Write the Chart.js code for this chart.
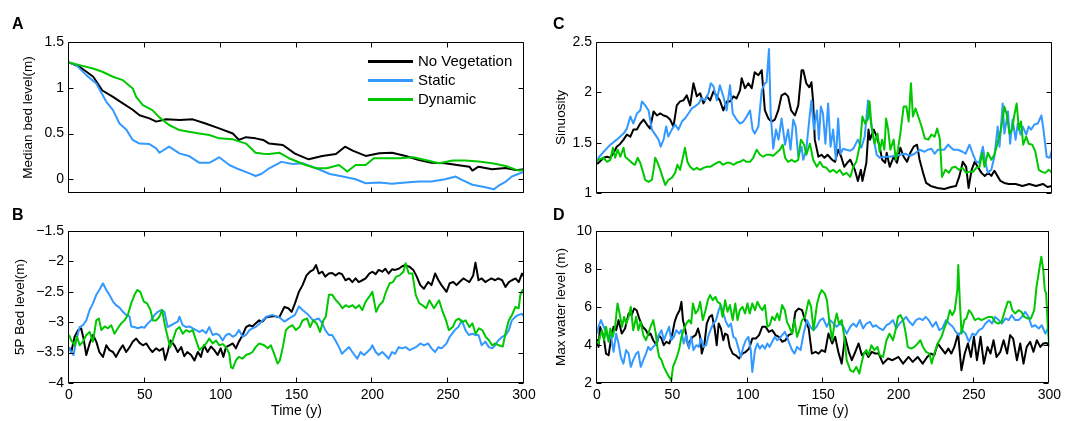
<!DOCTYPE html>
<html><head><meta charset="utf-8">
<script src="https://cdn.jsdelivr.net/npm/chart.js@4/dist/chart.umd.min.js"></script>
<style>
html,body{margin:0;padding:0;background:#fff;}
#wrap{position:relative;width:1065px;height:421px;overflow:hidden;font-family:"Liberation Sans",Arial,sans-serif;color:#000;}
canvas{position:absolute;left:0;top:0;}
.lbl{position:absolute;font-weight:bold;font-size:16px;line-height:16px;}
.legline{position:absolute;left:368px;width:45px;height:3px;}
.legtxt{position:absolute;left:418px;font-size:15px;line-height:18px;white-space:nowrap;}
</style></head>
<body>
<div id="wrap">
<canvas id="cA" width="1065" height="421"></canvas>
<canvas id="cB" width="1065" height="421"></canvas>
<canvas id="cC" width="1065" height="421"></canvas>
<canvas id="cD" width="1065" height="421"></canvas>
<div class="lbl" style="left:12px;top:16px">A</div>
<div class="lbl" style="left:12px;top:207px">B</div>
<div class="lbl" style="left:553px;top:16px">C</div>
<div class="lbl" style="left:553px;top:207px">D</div>
<div id="legend"></div>
</div>
<script>
// ---------- series names and colours ----------
const seriesNames = ["No Vegetation", "Static", "Dynamic"];
const seriesColors = ["#000000", "#3399ff", "#00c800"];

// ---------- tick labels ----------
const xTicks = [0, 50, 100, 150, 200, 250, 300];
const A_yTicks = [0, 0.5, 1, 1.5];
const B_yTicks = [-4, -3.5, -3, -2.5, -2, -1.5];
const C_yTicks = [1, 1.5, 2, 2.5];
const D_yTicks = [2, 4, 6, 8, 10];

// ---------- Panel A: Median bed level (m) ----------
const A_noVeg = [[0,1.276],[7,1.23],[16,1.12],[22,0.97],[29,0.90],[35.5,0.83],[42,0.76],[46.5,0.70],[53,0.665],[57.5,0.63],[64,0.655],[73,0.647],[81.6,0.655],[90,0.61],[99,0.556],[108,0.50],[112,0.43],[116.7,0.46],[123,0.447],[128,0.43],[132,0.39],[141,0.375],[149,0.28],[158,0.218],[167,0.255],[176,0.276],[182,0.356],[187,0.313],[195.6,0.255],[204.6,0.284],[213,0.29],[222,0.255],[230.7,0.21],[239,0.18],[248,0.175],[257,0.153],[264,0.138],[266,0.095],[270,0.138],[279,0.109],[288,0.124],[294.6,0.10],[300,0.109]];
const A_static = [[0,1.276],[4.8,1.247],[11.4,1.138],[18,1.047],[24.6,0.847],[29,0.756],[33.3,0.61],[37.7,0.545],[42,0.43],[46.5,0.39],[53,0.385],[57.5,0.338],[59.6,0.29],[66,0.356],[72.8,0.283],[79,0.255],[86,0.18],[92.5,0.18],[99,0.24],[105.7,0.156],[112,0.109],[119,0.065],[123,0.036],[127,0.06],[132,0.12],[140,0.19],[147.6,0.167],[154,0.175],[163,0.12],[172,0.058],[180.5,0.03],[189,0.0],[195.6,-0.044],[204.6,-0.036],[213,-0.05],[222,-0.036],[230.7,-0.025],[239,-0.025],[248,0.0],[255,0.03],[259,-0.007],[266,-0.06],[274.6,-0.087],[280,-0.11],[283,-0.073],[288,-0.025],[292,0.03],[300,0.084]];
const A_dynamic = [[0,1.276],[7,1.247],[15.8,1.21],[22,1.175],[29,1.12],[35.5,1.083],[42,0.993],[44.3,0.90],[48.7,0.81],[55,0.756],[59.6,0.676],[66,0.593],[72.8,0.538],[79,0.52],[86,0.50],[92.5,0.484],[99,0.447],[108,0.436],[116.7,0.39],[123,0.29],[128,0.28],[132,0.276],[138.6,0.29],[145,0.23],[156,0.156],[163,0.12],[170,0.12],[178,0.156],[183.5,0.084],[189,0.156],[195.6,0.156],[201,0.23],[209,0.23],[218,0.23],[227,0.24],[235,0.21],[244,0.175],[253,0.204],[261.4,0.204],[270,0.193],[279,0.175],[288,0.145],[296.5,0.095],[300,0.1]];

// ---------- Panel B: 5P Bed level (m) ----------
const B_noVeg = [[0,-3.41],[1.5,-3.49],[3.7,-3.24],[6,-3.13],[8,-3.10],[9.6,-3.27],[11.4,-3.54],[13.6,-3.35],[15.8,-3.21],[18,-3.32],[20,-3.49],[22.4,-3.57],[24.6,-3.38],[26.7,-3.46],[29,-3.49],[31,-3.57],[33.3,-3.46],[35.5,-3.38],[37.7,-3.49],[40,-3.41],[42,-3.32],[44.3,-3.27],[46.5,-3.34],[48.7,-3.38],[51,-3.35],[53,-3.43],[55,-3.49],[57.5,-3.43],[59.6,-3.47],[62,-3.43],[63.4,-3.62],[65,-3.49],[67,-3.30],[69.5,-3.38],[71.7,-3.49],[74,-3.41],[76,-3.56],[78,-3.49],[80.5,-3.54],[82.7,-3.63],[85,-3.49],[87,-3.57],[89,-3.38],[91.4,-3.49],[93.6,-3.40],[95.8,-3.46],[98,-3.54],[100,-3.43],[101.8,-3.57],[103.5,-3.41],[105.7,-3.38],[108,-3.35],[110,-3.43],[112,-3.32],[114.5,-3.21],[116.7,-3.08],[119,-3.05],[121,-3.07],[123,-3.02],[125.4,-2.97],[127.6,-2.99],[130,-2.92],[135.4,-2.90],[138.6,-2.92],[142,-2.75],[144.6,-2.77],[146.8,-2.83],[149,-2.69],[151.6,-2.50],[154,-2.39],[156.6,-2.23],[158.9,-2.17],[161,-2.14],[162.9,-2.06],[164.7,-2.20],[167,-2.17],[169,-2.25],[171.3,-2.20],[173.5,-2.19],[175.7,-2.23],[178,-2.19],[180,-2.21],[182.3,-2.31],[184.6,-2.28],[186.8,-2.34],[189,-2.28],[191,-2.34],[193.4,-2.31],[195.6,-2.28],[198,-2.20],[200,-2.17],[202.2,-2.21],[204.2,-2.14],[206.5,-2.17],[208.6,-2.12],[210.7,-2.20],[213,-2.13],[215,-2.14],[217.4,-2.12],[219.7,-2.08],[222,-2.06],[224.6,-2.09],[227,-2.14],[229.3,-2.25],[231.6,-2.39],[234,-2.45],[236.8,-2.34],[239,-2.39],[241.4,-2.20],[243.6,-2.31],[245.6,-2.39],[248.9,-2.50],[251,-2.36],[253.4,-2.34],[255.5,-2.39],[257.5,-2.34],[260,-2.28],[262,-2.31],[264,-2.34],[266.5,-2.23],[268,-2.02],[270,-2.31],[272.1,-2.28],[274.5,-2.34],[276.4,-2.31],[278.5,-2.28],[281,-2.31],[283,-2.28],[285.6,-2.31],[287.8,-2.42],[290,-2.34],[292,-2.31],[294.4,-2.28],[296.5,-2.34],[298.7,-2.20],[300,-2.25]];
const B_static = [[0,-3.41],[1.5,-3.49],[3,-3.54],[4.8,-3.30],[7,-3.08],[9.2,-3.05],[11.4,-2.97],[13.6,-2.80],[15.8,-2.69],[18,-2.55],[20,-2.47],[22.4,-2.36],[24.6,-2.47],[26.7,-2.55],[29,-2.66],[31,-2.72],[33.3,-2.76],[35.5,-2.83],[37.7,-2.88],[40,-2.91],[41,-3.07],[43,-3.08],[45.4,-3.10],[47.6,-3.08],[49.8,-3.09],[52,-3.02],[54,-2.97],[56.4,-2.88],[58.6,-2.83],[60.7,-2.80],[63,-2.83],[65,-3.08],[67.3,-3.05],[69.5,-3.02],[71.7,-2.99],[72.8,-2.91],[75,-3.05],[77.2,-3.08],[79.4,-3.07],[81.6,-3.10],[83.8,-3.13],[86,-3.16],[88,-3.13],[90.4,-3.18],[92.5,-3.08],[94.7,-3.21],[97,-3.19],[99,-3.21],[101.3,-3.30],[103.5,-3.21],[105.7,-3.19],[108,-3.24],[110,-3.21],[112,-3.13],[114.5,-3.24],[116.7,-3.21],[119,-3.13],[121,-3.10],[123,-3.08],[125.4,-3.03],[130,-2.91],[134,-2.88],[138.6,-2.92],[142,-2.99],[145,-2.94],[149,-2.88],[151.6,-2.74],[154,-2.80],[157,-2.86],[161,-2.97],[164.7,-2.94],[167,-3.02],[169,-3.13],[171.3,-3.21],[173.5,-3.21],[175.7,-3.30],[178,-3.41],[180,-3.52],[182.3,-3.46],[184.6,-3.41],[186.8,-3.49],[190,-3.60],[192.3,-3.49],[194.5,-3.54],[196.7,-3.49],[199,-3.43],[200,-3.38],[202.2,-3.49],[204.2,-3.54],[206.5,-3.49],[208.6,-3.54],[210.7,-3.60],[213,-3.49],[215,-3.52],[217.4,-3.41],[219.7,-3.43],[222,-3.41],[224.6,-3.46],[227,-3.43],[229.3,-3.40],[231.6,-3.35],[234,-3.38],[236.8,-3.35],[239,-3.43],[241.4,-3.49],[243.6,-3.41],[245.6,-3.43],[248.9,-3.35],[251,-3.24],[254.4,-3.13],[256.7,-3.08],[259,-2.97],[261.4,-3.13],[263.6,-3.21],[266,-3.19],[268,-3.21],[270,-3.21],[272.1,-3.38],[274.5,-3.32],[276.8,-3.41],[279,-3.43],[281,-3.38],[283,-3.30],[285.6,-3.24],[288,-3.21],[290,-3.13],[292,-2.97],[294.4,-2.91],[296.5,-2.88],[298.7,-2.86],[300,-2.91]];
const B_dynamic = [[0,-3.21],[1.5,-3.30],[3.7,-3.38],[5.3,-3.24],[7,-3.38],[9.2,-3.32],[11.4,-3.21],[13.6,-3.16],[15.8,-3.32],[18,-2.97],[19.7,-2.94],[21.3,-3.13],[23.5,-3.07],[25.7,-3.10],[27.9,-3.05],[30,-3.19],[32.2,-3.10],[34.4,-3.02],[36.6,-2.97],[38.8,-2.88],[41,-2.69],[43.2,-2.55],[45,-2.47],[47,-2.50],[49.3,-2.66],[51.5,-2.69],[53.7,-2.80],[55.3,-2.97],[57.5,-2.97],[59.6,-2.91],[61.4,-2.80],[63,-3.02],[65,-3.24],[66.7,-3.41],[68.4,-3.30],[70.6,-3.13],[72.8,-3.08],[75,-3.19],[77.2,-3.13],[79.4,-3.16],[81.6,-3.13],[83.8,-3.30],[86,-3.46],[88,-3.41],[90.4,-3.35],[92.5,-3.27],[94.7,-3.35],[97,-3.30],[99,-3.38],[101.3,-3.36],[103.5,-3.41],[105.7,-3.52],[106.8,-3.74],[108,-3.76],[110,-3.63],[112,-3.57],[114.5,-3.60],[116.7,-3.54],[119,-3.52],[121,-3.49],[123,-3.41],[125.4,-3.35],[128.7,-3.38],[131,-3.43],[133.1,-3.38],[135.3,-3.52],[137.5,-3.68],[139,-3.63],[141,-3.41],[143,-3.13],[145,-3.08],[147.4,-3.05],[149.6,-3.13],[152,-3.08],[154,-2.97],[157,-2.94],[159,-3.08],[161,-2.97],[163.3,-3.02],[165.5,-3.16],[167.7,-2.97],[169.3,-2.91],[171.4,-2.55],[173.6,-2.55],[176,-2.64],[178,-2.69],[180.3,-2.77],[182.5,-2.72],[184.5,-2.75],[187,-2.72],[189,-2.77],[191.3,-2.72],[193.4,-2.80],[195.6,-2.66],[198,-2.58],[200,-2.50],[202.5,-2.83],[204.6,-2.72],[207,-2.66],[209,-2.50],[211.4,-2.36],[213.6,-2.34],[215.8,-2.25],[218,-2.23],[220.5,-2.17],[222,-2.03],[224,-2.20],[226.4,-2.20],[228.6,-2.55],[231,-2.69],[233,-2.72],[235.5,-2.77],[237.6,-2.64],[240.6,-2.77],[244,-2.64],[246,-2.80],[248.6,-2.97],[250.4,-3.13],[253,-3.08],[255,-2.97],[257,-2.94],[259.3,-3.00],[261.5,-2.97],[264,-3.08],[266,-3.02],[268.1,-3.19],[270.3,-3.10],[272.5,-3.13],[274.7,-3.24],[277,-3.30],[279,-3.38],[281.1,-3.35],[283.3,-3.38],[286,-3.40],[287.7,-3.19],[290,-2.97],[292.1,-2.88],[294.3,-2.75],[296.5,-2.77],[297.6,-2.55],[299,-2.47],[300,-2.50]];

// ---------- Panel C: Sinuosity ----------
const C_noVeg = [[0,1.29],[1,1.30],[4.4,1.35],[6.6,1.36],[8.8,1.35],[11,1.40],[13,1.46],[15.4,1.49],[17.5,1.53],[19.7,1.58],[22,1.56],[24,1.63],[26.3,1.63],[28.5,1.69],[30.7,1.73],[32.9,1.68],[35,1.64],[37.3,1.81],[39.5,1.77],[41.7,1.79],[43.9,1.77],[46,1.76],[48.2,1.73],[50.4,1.66],[52.6,1.87],[54.8,1.91],[57,1.92],[59.2,1.97],[61.4,1.87],[63.6,2.09],[65.8,1.96],[68,1.99],[70.2,1.89],[72.4,1.96],[74.6,1.92],[76.8,2.01],[79,1.96],[81,1.92],[83.3,1.82],[85.5,1.91],[87.7,1.91],[90,1.96],[92,1.94],[94.3,2.02],[95.4,2.14],[97.6,2.04],[99.8,2.09],[102,2.04],[104,2.20],[106.4,2.17],[108.6,2.22],[110.7,1.82],[113,1.74],[115,1.71],[117.3,1.73],[119.5,1.82],[121.7,1.97],[124,1.99],[126,1.96],[128,1.82],[130.5,1.77],[132.7,1.87],[134.9,2.22],[136,2.22],[138,2.09],[140,2.05],[141.4,2.10],[142.5,1.91],[143.6,1.53],[146,1.36],[148,1.38],[150,1.35],[152,1.38],[155,1.33],[157,1.31],[159,1.43],[161,1.36],[163,1.26],[165,1.30],[167,1.33],[170,1.23],[172,1.12],[174,1.23],[175,1.12],[177.6,1.30],[179,1.63],[180,1.53],[182.5,1.63],[184.4,1.56],[186.4,1.46],[188,1.33],[190,1.30],[191,1.40],[193,1.26],[195.6,1.36],[197.8,1.30],[200,1.45],[202.2,1.36],[204.4,1.31],[206.6,1.40],[208.8,1.46],[211,1.48],[212.7,1.33],[215,1.20],[217,1.10],[220,1.07],[224.5,1.05],[229,1.04],[233.3,1.06],[236.7,1.07],[239,1.17],[241.2,1.31],[243.4,1.26],[245,1.05],[247,1.23],[249,1.31],[251,1.26],[253.5,1.20],[255.7,1.17],[258,1.20],[260,1.17],[262,1.22],[264,1.17],[266,1.12],[268.5,1.10],[271.5,1.09],[276,1.09],[280.5,1.07],[285,1.09],[289.5,1.07],[294,1.09],[297,1.06],[300,1.07]];
const C_static = [[0,1.31],[1,1.35],[4.4,1.41],[8.8,1.48],[13,1.53],[17.5,1.59],[19.7,1.64],[22,1.76],[24,1.69],[26.3,1.79],[28.5,1.82],[29.6,1.91],[31.8,1.87],[34,1.82],[36.2,1.63],[38.4,1.58],[40.6,1.53],[42,1.46],[43.9,1.53],[45.6,1.66],[47,1.56],[49.3,1.63],[51.5,1.68],[53.7,1.63],[56,1.71],[58,1.74],[60.3,1.79],[62.5,1.84],[64.7,1.86],[67,1.89],[69,1.94],[71.3,1.92],[73.5,1.99],[75,2.09],[76.8,2.06],[79,1.92],[81,2.07],[83.3,1.96],[85.5,1.82],[87.7,2.07],[89.5,1.79],[92,1.73],[94.3,1.69],[96.5,1.71],[98.7,1.76],[100.9,1.82],[102.6,1.63],[104,1.59],[106.4,1.66],[108.6,2.02],[110.7,2.09],[111.8,2.10],[113.4,2.43],[114.5,1.79],[116.2,1.44],[118,1.63],[119.7,1.53],[121.7,1.74],[124,1.48],[126,1.63],[127.6,1.43],[129.4,1.73],[131,1.66],[132.7,1.36],[134.9,1.46],[136,1.33],[138,1.43],[140.4,1.79],[141.4,1.92],[143,1.63],[145,1.82],[146.3,1.53],[147.6,1.86],[149,1.79],[150.6,1.49],[152.4,1.89],[154,1.46],[155.7,1.63],[157.5,1.33],[159,1.74],[160.5,1.39],[162.3,1.44],[164.5,1.43],[167,1.42],[169,1.44],[172,1.53],[174.3,1.45],[176.5,1.56],[178.7,1.92],[180,1.76],[182.5,1.53],[184.4,1.38],[186.4,1.35],[190,1.36],[193,1.36],[196,1.37],[200,1.38],[203,1.39],[206.6,1.37],[209.4,1.39],[212.7,1.43],[216,1.41],[218,1.43],[220.5,1.44],[222.6,1.39],[224.8,1.43],[229,1.43],[231.5,1.48],[235,1.43],[238,1.43],[241,1.41],[243,1.39],[245.6,1.48],[248,1.38],[250,1.31],[252,1.30],[254.4,1.46],[256,1.31],[257.7,1.20],[260,1.23],[262,1.36],[264.2,1.66],[265.4,1.46],[267.5,1.89],[268.6,1.59],[271,1.81],[272.4,1.49],[274,1.73],[276,1.53],[277.4,1.69],[279.2,1.58],[280.7,1.66],[283,1.58],[284.6,1.66],[286.2,1.63],[288.4,1.68],[290.6,1.69],[293,1.77],[294.3,1.64],[296.5,1.36],[298.6,1.35],[300,1.43]];
const C_dynamic = [[0,1.32],[1,1.33],[4.4,1.35],[6.6,1.31],[8.8,1.33],[10.5,1.45],[12,1.35],[13.6,1.43],[15.4,1.36],[17.5,1.45],[18.6,1.36],[20.8,1.33],[23,1.30],[25,1.28],[26.8,1.35],[28.5,1.30],[30.3,1.21],[31.8,1.13],[34,1.11],[36.2,1.13],[37.3,1.23],[38.4,1.35],[40,1.30],[41.7,1.23],[43.4,1.15],[45,1.08],[47,1.13],[49.3,1.15],[51.5,1.20],[53,1.28],[54.8,1.23],[56.6,1.35],[58,1.45],[59.6,1.31],[61.4,1.26],[63.6,1.23],[65.8,1.25],[68,1.23],[70.2,1.25],[72.4,1.26],[74.6,1.26],[76.8,1.28],[79,1.30],[81,1.31],[83,1.28],[85.5,1.30],[87.7,1.30],[90,1.28],[92,1.30],[94.3,1.31],[96.5,1.33],[98.7,1.31],[100.9,1.31],[103,1.35],[105.3,1.43],[107.5,1.38],[109.6,1.36],[111.8,1.38],[114,1.38],[116.2,1.37],[118.4,1.40],[120.6,1.43],[122.4,1.48],[124,1.35],[126,1.31],[128.3,1.33],[130.5,1.31],[132.7,1.33],[134.4,1.53],[136.6,1.48],[138,1.38],[140.4,1.49],[142.5,1.33],[145,1.26],[147,1.31],[149,1.26],[151.3,1.25],[153.5,1.21],[155.7,1.23],[158,1.20],[160,1.23],[162.3,1.18],[164.5,1.20],[167,1.16],[169,1.26],[171,1.31],[173.5,1.49],[175,1.76],[176.8,1.69],[178.5,1.73],[179.7,1.91],[181,1.66],[183,1.49],[185,1.59],[186.3,1.41],[188,1.53],[189.5,1.43],[190.6,1.74],[192,1.63],[193.4,1.43],[195.6,1.53],[197,1.33],[198.5,1.44],[200,1.59],[202.2,1.86],[204,1.86],[205.5,1.71],[207,2.09],[208.3,1.76],[210,1.84],[211.8,1.76],[214,1.66],[216.2,1.54],[218.4,1.53],[220.5,1.58],[222.6,1.56],[224.3,1.64],[226,1.54],[227.5,1.16],[229.7,1.23],[232,1.20],[234,1.25],[236.3,1.26],[238.5,1.23],[241,1.25],[243.4,1.20],[245.6,1.21],[248,1.21],[250,1.25],[252.2,1.26],[254,1.40],[255.5,1.26],[257.7,1.40],[260,1.33],[262,1.38],[264,1.49],[266.4,1.63],[268.6,1.86],[270,1.79],[272,1.59],[273.7,1.63],[275,1.76],[276.7,1.89],[278.2,1.63],[279.6,1.71],[281,1.48],[283,1.56],[284.6,1.49],[287,1.48],[289,1.41],[291.3,1.23],[293.4,1.21],[295.6,1.20],[297.8,1.23],[300,1.20]];

// ---------- Panel D: Max water level (m) ----------
const D_noVeg = [[0,4.3],[1,3.9],[2,4.96],[4.4,4.43],[6,3.55],[7.7,3.46],[9.2,4.25],[11,4.96],[12.7,4.78],[14.3,5.31],[16.4,4.6],[18.6,4.87],[21,5.66],[23,5.57],[24.6,5.92],[26.3,5.83],[28,5.40],[30.3,4.96],[32.5,4.78],[34,4.52],[35.5,4.6],[37.3,4.25],[39.5,3.99],[41,4.52],[42.8,4.34],[44.3,3.99],[46,4.17],[48,4.08],[50,4.6],[51.5,5.22],[53,5.57],[54.8,5.83],[56,6.27],[57,5.31],[58.6,4.78],[60.3,3.99],[62,4.25],[63.6,4.43],[65.4,4.52],[67,4.87],[68.4,4.43],[69.5,3.55],[71.3,4.08],[72.8,5.13],[74.6,5.48],[76.3,5.57],[78,4.87],[79.4,3.99],[80.7,5.13],[82.2,4.87],[83.8,4.25],[85,4.6],[86.6,4.52],[88,3.9],[90,3.55],[92,3.46],[94.3,3.29],[96.5,3.55],[98.7,3.64],[100.9,3.81],[103,4.34],[105.3,4.34],[107.5,4.52],[109.6,4.96],[111.8,4.96],[114,4.69],[116.2,4.78],[118.4,4.52],[120.6,4.43],[122.8,4.17],[125,4.25],[127,4.52],[129.4,4.6],[131.6,5.75],[133.8,5.92],[136,5.83],[138,5.31],[140.4,4.87],[142.5,3.55],[145,3.64],[147,3.55],[149,3.73],[151.3,3.64],[153.5,4.6],[156,4.08],[158,4.43],[160,3.64],[162.3,3.02],[164.5,4.43],[167,3.64],[169,3.2],[171.3,3.64],[173.5,4.08],[175.7,3.46],[178,3.64],[180,3.37],[182.3,3.64],[184.6,3.55],[186.8,3.55],[189.7,3.02],[193,3.29],[196,3.20],[200,3.37],[203,3.02],[206.6,3.37],[209.4,3.11],[212.7,3.37],[216,3.02],[219,3.37],[221.5,3.55],[223.7,3.46],[226,4.08],[228.5,3.81],[231,3.55],[233,3.81],[235,3.55],[237,3.90],[239.5,4.60],[241.7,2.67],[243.9,3.55],[246,4.08],[248,3.37],[250,4.43],[252,3.20],[254.4,4.43],[256.6,3.02],[259,3.9],[261,3.55],[263,4.25],[265,3.37],[267.5,3.64],[269.7,4.25],[272,3.55],[274,4.52],[276,4.34],[278.5,3.2],[280.7,4.08],[282.9,3.02],[285,3.9],[287.3,4.17],[289.5,3.64],[291.7,4.25],[294,3.9],[296,4.08],[298.2,4.11],[300,3.94]];
const D_static = [[0,4.6],[1,4.96],[2.6,5.31],[4.4,4.96],[6,4.69],[7.7,4.25],[9.2,4.52],[11,3.64],[12.7,4.6],[14.3,4.08],[15.8,3.37],[17.5,3.02],[19.3,3.73],[21,3.55],[22.4,2.85],[24,3.20],[26,3.55],[27.4,3.64],[29,2.85],[30.7,3.20],[32.5,3.55],[34,3.9],[35.5,3.73],[37.3,3.9],[39.5,4.08],[41,4.52],[42.8,4.78],[44.3,4.25],[46,4.6],[47.8,4.96],[49.3,4.25],[51,4.43],[52.6,4.78],[54.4,4.6],[56,4.78],[57.5,4.08],[59.2,4.52],[61,3.81],[62.5,4.43],[64,3.73],[65.8,3.99],[67.5,3.9],[69,4.34],[70.6,3.9],[72.4,3.99],[74,4.52],[75.7,4.87],[77.2,5.13],[79,5.31],[80.7,5.83],[82.2,6.10],[83.8,5.66],[85.5,5.22],[87.3,4.96],[88.8,5.13],[90.4,4.43],[92,4.34],[93.9,3.81],[95.4,3.37],[97,3.9],[98.7,4.25],[100.4,4.43],[102,3.73],[103,2.58],[104.8,3.73],[106.4,4.08],[108,3.81],[109.6,3.99],[111.4,3.81],[113,4.08],[114.5,3.9],[116.2,4.17],[118,4.43],[119.5,4.25],[121,4.34],[122.8,4.52],[124.6,4.69],[126,4.43],[127.6,4.08],[129.4,3.73],[131,3.55],[132.7,3.9],[135,3.73],[137,4.6],[139.3,5.31],[141.4,4.96],[143.6,4.78],[145.6,4.96],[148,5.31],[150,5.40],[152.4,4.96],[154.6,5.31],[157,5.13],[159,4.96],[161.2,5.13],[163.4,4.96],[165.6,4.6],[168,4.96],[170,5.13],[172.1,4.96],[174.3,5.31],[176.5,4.87],[178.7,5.13],[181,5.22],[183,4.96],[185,5.04],[187.5,4.87],[189.7,4.78],[192,5.04],[194,5.13],[196.3,5.31],[198.5,4.87],[200.7,5.13],[203,5.31],[205,5.48],[207.2,5.22],[209.4,5.04],[211.6,5.31],[213.8,5.40],[216,5.31],[218,5.48],[220,5.31],[222.6,4.96],[224.8,5.22],[227,4.78],[229,4.87],[231.5,5.31],[233.5,5.13],[236,4.96],[238,4.69],[240,4.52],[242.3,4.78],[244.5,4.6],[246.7,4.17],[249,4.6],[251,4.52],[253.3,4.78],[255.5,4.87],[257.7,5.13],[260,5.31],[262,5.13],[264,5.48],[266.4,5.31],[268.6,5.13],[271,5.40],[273,5.31],[275,5.57],[277.4,5.31],[279.6,5.31],[281.8,5.48],[284,5.75],[286.2,5.48],[288.4,4.96],[290.6,5.04],[293,4.87],[295,5.04],[297.4,4.6],[300,5.04]];
const D_dynamic = [[0,4.2],[1,4.08],[2,4.43],[3.3,4.78],[4.8,4.25],[6,4.96],[7.7,4.17],[8.8,4.87],[10.5,4.43],[12,4.96],[13.6,6.19],[15,5.66],[16.6,4.96],[18,5.48],[19.3,5.13],[21,5.48],[22.4,6.01],[24,4.78],[26,5.48],[27.4,4.78],[29,5.22],[30.7,4.52],[32.5,4.25],[34,4.6],[35.5,4.96],[37.3,5.31],[39,4.6],[40,3.9],[41.2,3.37],[42.8,3.2],[44.3,2.85],[46,2.58],[47.8,2.32],[49.3,2.14],[50.4,2.85],[52.2,3.2],[53.7,3.55],[54.8,3.9],[56,4.43],[57.5,4.78],[59.2,5.13],[61,5.31],[62.5,5.13],[63.6,6.19],[65.4,5.66],[67,5.83],[68.4,6.27],[70.2,5.31],[72,5.83],[73.5,6.36],[75,6.63],[76.8,6.36],[78.5,6.54],[80,6.27],[81.6,6.19],[83.3,5.48],[85,6.36],[86.6,5.75],[88.2,6.10],[90,5.31],[91.7,6.19],[93.2,5.31],[94.7,5.83],[96.5,6.01],[98.2,5.66],[99.8,6.19],[101.3,5.66],[103,6.19],[104.8,5.83],[106.4,6.27],[108,6.01],[109.6,5.83],[111.4,6.10],[113,4.96],[114.5,5.04],[116.2,5.48],[118,5.31],[119.5,5.66],[121,5.31],[122.8,6.10],[124.6,5.83],[126,5.22],[127.6,4.96],[129.4,4.6],[131,5.31],[132.7,4.43],[134.2,4.78],[136,5.31],[138,5.48],[140.4,6.36],[142,6.01],[143.6,4.78],[146,6.19],[147.5,6.63],[149,6.89],[151,6.72],[152.5,6.36],[154,5.31],[156,4.25],[157.5,5.13],[159,5.66],[160.5,5.13],[162.3,5.31],[164,4.43],[165.6,3.2],[168,2.67],[170,2.58],[172,2.85],[174,2.50],[175.4,3.02],[177,3.55],[178.7,3.73],[180,3.46],[182,3.99],[184,3.73],[186,3.90],[187.5,3.46],[189.7,3.37],[192,4.25],[194,4.6],[196.3,4.25],[198,4.78],[199.6,5.48],[201.3,5.57],[203,5.31],[204.4,4.78],[206.1,3.90],[208.3,3.81],[210.5,3.90],[212.7,4.08],[214.5,4.25],[216.2,3.90],[218.2,3.64],[220.5,3.55],[222,3.02],[223.7,3.55],[226,4.08],[228.5,4.43],[230.7,4.96],[232.5,5.31],[234,5.83],[235.6,5.57],[237.3,5.83],[239,6.89],[239.6,8.21],[240.7,6.19],[241.8,4.6],[243.6,5.31],[245,5.40],[246.7,5.83],[248.4,5.66],[250.6,5.31],[253,5.40],[255,5.31],[257.5,5.40],[259.6,5.48],[262,5.48],[264,5.22],[266.2,5.13],[268.4,5.22],[270.6,5.83],[272.4,6.27],[274,6.27],[275.5,5.83],[277.3,5.66],[279.6,5.83],[281.4,5.75],[283.4,5.48],[285.5,5.40],[287.8,5.40],[290,5.83],[291.5,7.06],[293.6,8.12],[294.7,8.65],[296,7.94],[297,6.89],[297.9,6.72],[299,4.96],[300,3.9]];

// ---------- helpers ----------
const FONT = '"Liberation Sans", Arial, sans-serif';
const fmt = v => String(v).replace('-', '\u2212');

const framePlugin = {
  id: 'frame',
  afterDraw(chart) {
    const {ctx, chartArea: a, scales} = chart;
    const L = Math.round(a.left) - 0.5, R = Math.round(a.right) - 0.5;
    const T = Math.round(a.top) + 0.5, B = Math.round(a.bottom) - 0.5;
    const tl = 5;
    ctx.save();
    ctx.strokeStyle = '#000';
    ctx.lineWidth = 1;
    ctx.beginPath();
    ctx.rect(L, T, R - L, B - T);
    scales.x.ticks.forEach(t => {
      const px = Math.round(scales.x.getPixelForValue(t.value)) - 0.5;
      ctx.moveTo(px, B); ctx.lineTo(px, B - tl);
      ctx.moveTo(px, T); ctx.lineTo(px, T + tl);
    });
    scales.y.ticks.forEach(t => {
      const py = Math.round(scales.y.getPixelForValue(t.value)) + 0.5;
      ctx.moveTo(L, py); ctx.lineTo(L + tl, py);
      ctx.moveTo(R, py); ctx.lineTo(R - tl, py);
    });
    ctx.stroke();
    ctx.restore();
  }
};

function makePanel(id, p) {
  const toXY = arr => arr.map(([x, y]) => ({x, y}));
  // green drawn on top, then blue, then black
  const order = [2, 1, 0];
  const datasets = order.map(i => ({
    label: seriesNames[i],
    data: toXY(p.series[i]),
    borderColor: seriesColors[i],
    backgroundColor: seriesColors[i],
    borderWidth: 2,
    pointRadius: 0,
    tension: 0,
    fill: false,
    borderJoinStyle: 'round'
  }));
  new Chart(document.getElementById(id), {
    type: 'line',
    data: { datasets },
    plugins: [framePlugin],
    options: {
      responsive: false,
      animation: false,
      events: [],
      layout: { padding: { left: p.padLeft, top: p.top, right: 1065 - p.right, bottom: 0 } },
      plugins: { legend: { display: false }, tooltip: { enabled: false } },
      scales: {
        x: {
          type: 'linear', min: 0, max: 300,
          afterBuildTicks: s => { s.ticks = xTicks.map(v => ({value: v})); },
          afterFit: s => { s.height = 421 - p.bottom; },
          grid: { display: false, drawTicks: false },
          border: { display: false },
          ticks: { display: p.showX, autoSkip: false, maxRotation: 0, padding: 4, color: '#000',
                   font: { family: FONT, size: 14 }, callback: v => fmt(v) },
          title: { display: p.showX, text: 'Time (y)', color: '#000',
                   font: { family: FONT, size: 14 }, padding: { top: 0, bottom: 1 } }
        },
        y: {
          type: 'linear', min: p.ymin, max: p.ymax,
          afterBuildTicks: s => { s.ticks = p.yTicks.map(v => ({value: v})); },
          afterFit: s => { s.width = p.left - p.padLeft; },
          grid: { display: false, drawTicks: false },
          border: { display: false },
          ticks: { autoSkip: false, padding: 5, color: '#000',
                   font: { family: FONT, size: 14 }, callback: v => fmt(v) },
          title: { display: true, text: p.title, color: '#000',
                   font: { family: FONT, size: 13.5 }, padding: { top: p.titlePad, bottom: 0 } }
        }
      }
    }
  });
}

makePanel('cA', { padLeft: 0, left: 69, right: 524, top: 42, bottom: 193, ymin: -0.15, ymax: 1.5,
  yTicks: A_yTicks, title: 'Median bed level(m)', titlePad: 20.5, showX: false,
  series: [A_noVeg, A_static, A_dynamic] });
makePanel('cB', { padLeft: 0, left: 69, right: 524, top: 231, bottom: 383, ymin: -4, ymax: -1.5,
  yTicks: B_yTicks, title: '5P Bed level(m)', titlePad: 12, showX: true,
  series: [B_noVeg, B_static, B_dynamic] });
makePanel('cC', { padLeft: 540, left: 597, right: 1052, top: 42, bottom: 193, ymin: 1, ymax: 2.5,
  yTicks: C_yTicks, title: 'Sinuosity', titlePad: 13, showX: false,
  series: [C_noVeg, C_static, C_dynamic] });
makePanel('cD', { padLeft: 540, left: 597, right: 1052, top: 231, bottom: 383, ymin: 2, ymax: 10,
  yTicks: D_yTicks, title: 'Max water level (m)', titlePad: 13, showX: true,
  series: [D_noVeg, D_static, D_dynamic] });

// ---------- legend (panel A) ----------
const legRows = [61, 80, 99];
const leg = document.getElementById('legend');
seriesNames.forEach((name, i) => {
  const ln = document.createElement('div');
  ln.className = 'legline';
  ln.style.top = (legRows[i] - 1.5) + 'px';
  ln.style.background = seriesColors[i];
  leg.appendChild(ln);
  const tx = document.createElement('div');
  tx.className = 'legtxt';
  tx.style.top = (legRows[i] - 9) + 'px';
  tx.textContent = name;
  leg.appendChild(tx);
});
</script>
</body></html>
